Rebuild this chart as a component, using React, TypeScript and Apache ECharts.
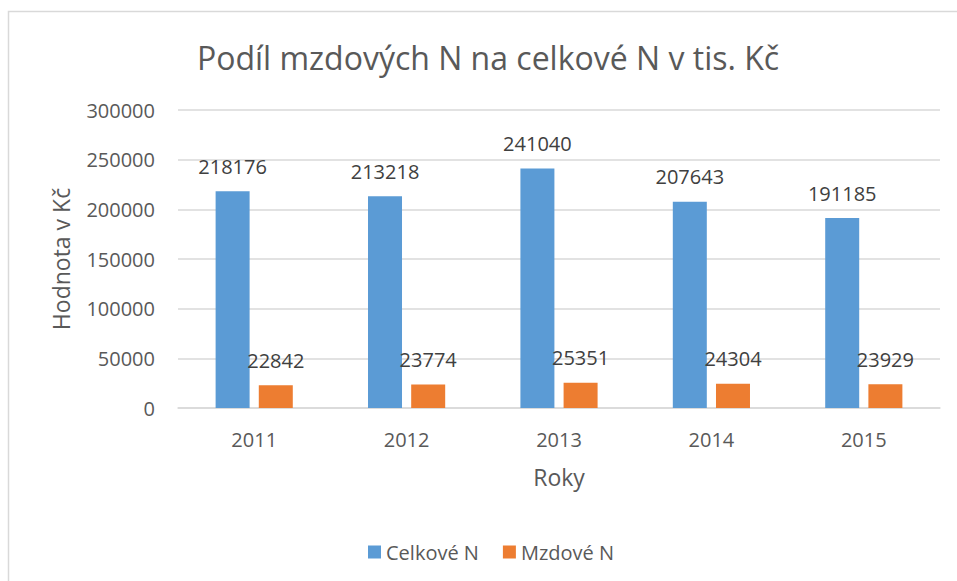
import React, { useEffect, useRef } from "react";
import * as echarts from "echarts";

const categories = ["2011", "2012", "2013", "2014", "2015"];
const celkoveN = [218176, 213218, 241040, 207643, 191185];
const mzdoveN = [22842, 23774, 25351, 24304, 23929];
const seriesNames = ["Celkové N", "Mzdové N"];
const titleText = "Podíl mzdových N na celkové N v tis. Kč";

const FONT = "'Open Sans', sans-serif";

export default function App() {
  const ref = useRef<HTMLDivElement>(null);
  useEffect(() => {
    if (!ref.current) return;
    const chart = echarts.init(ref.current, null, { renderer: "svg" });
    const labelStyle = {
      show: true,
      position: "top",
      distance: 15,
      color: "#404040",
      fontSize: 20,
      fontFamily: FONT,
    };
    chart.setOption({
      animation: false,
      backgroundColor: "#ffffff",
      graphic: [
        {
          type: "rect",
          shape: { x: 8.5, y: 11.5, width: 1200, height: 1200 },
          style: { fill: "none", stroke: "#d9d9d9", lineWidth: 1.5 },
          silent: true,
        },
        {
          type: "text",
          x: 488,
          y: 57,
          style: {
            text: titleText,
            fontSize: 32,
            fontFamily: FONT,
            fill: "#595959",
            textAlign: "center",
            textVerticalAlign: "middle",
          },
        },
      ],
      grid: { left: 178, right: 17, top: 110, bottom: 173, containLabel: false },
      legend: {
        data: seriesNames,
        left: 363,
        top: 537,
        itemWidth: 13,
        itemHeight: 13,
        itemGap: 24,
        icon: "rect",
        textStyle: { fontSize: 20, fontFamily: FONT, color: "#595959" },
      },
      xAxis: {
        type: "category",
        data: categories,
        name: "Roky",
        nameLocation: "middle",
        nameGap: 56,
        nameTextStyle: { fontSize: 23, fontFamily: FONT, color: "#595959", lineHeight: 26 },
        axisLine: { show: true, lineStyle: { color: "#d9d9d9", width: 1.5 } },
        axisTick: { show: false },
        axisLabel: { fontSize: 20, fontFamily: FONT, color: "#595959", margin: 19, lineHeight: 24 },
      },
      yAxis: {
        type: "value",
        min: 0,
        max: 300000,
        interval: 50000,
        name: "Hodnota v Kč",
        nameLocation: "middle",
        nameRotate: 90,
        nameGap: 106,
        nameTextStyle: { fontSize: 23, fontFamily: FONT, color: "#595959" },
        axisLine: { show: false },
        axisTick: { show: false },
        splitLine: { lineStyle: { color: "#d9d9d9", width: 1.5 } },
        axisLabel: {
          fontSize: 20,
          fontFamily: FONT,
          color: "#595959",
          margin: 23,
          formatter: (v: number) => String(v),
        },
      },
      series: [
        {
          name: seriesNames[0],
          type: "bar",
          data: celkoveN,
          barWidth: 34,
          barGap: "27%",
          itemStyle: { color: "#5B9BD5" },
          label: labelStyle,
        },
        {
          name: seriesNames[1],
          type: "bar",
          data: mzdoveN,
          barWidth: 34,
          barGap: "27%",
          itemStyle: { color: "#ED7D31" },
          label: labelStyle,
        },
      ],
    });
    return () => chart.dispose();
  }, []);
  return (
    <div
      ref={ref}
      style={{ position: "fixed", left: 0, top: 0, width: 957, height: 581 }}
    />
  );
}
